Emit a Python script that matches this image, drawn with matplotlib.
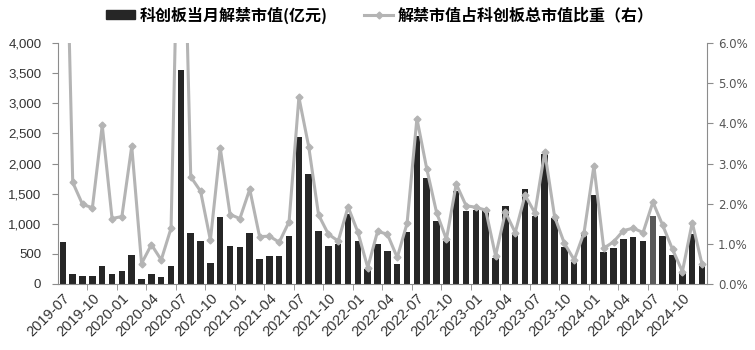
import matplotlib.pyplot as plt
from matplotlib.patches import Patch
from matplotlib.lines import Line2D
from matplotlib.ticker import FuncFormatter, MultipleLocator

plt.rcParams['font.family'] = ['Liberation Sans', 'DejaVu Sans']

# 数据：2019-07 ~ 2024-12 每月
meses = []
for anio in range(2019, 2025):
    for m in range(1, 13):
        if anio == 2019 and m < 7:
            continue
        meses.append(f"{anio}-{m:02d}")

valor_desbloqueo = [
    700, 166, 133, 133, 299, 166, 221, 481, 77, 160, 122, 299,
    3550, 840, 719, 354, 1111, 625, 614, 852, 415, 465, 465, 791,
    2433, 1825, 874, 636, 658, 1161, 708, 243, 658, 542, 337, 868,
    2461, 1753, 1045, 713, 1548, 1206, 1228, 1250, 431, 1300, 824, 1576,
    1134, 2160, 1089, 619, 370, 841, 1471, 531, 603, 752, 774, 708,
    1128, 796, 476, 177, 830, 299,
]

proporcion = [
    12.7, 2.53, 1.98, 1.90, 3.95, 1.63, 1.68, 3.43, 0.51, 0.98, 0.60, 1.39,
    12.6, 2.67, 2.31, 1.09, 3.39, 1.73, 1.63, 2.36, 1.18, 1.19, 1.04, 1.55,
    4.65, 3.42, 1.72, 1.24, 1.07, 1.92, 1.29, 0.41, 1.31, 1.24, 0.66, 1.51,
    4.12, 2.87, 1.78, 1.11, 2.49, 1.95, 1.91, 1.84, 0.70, 1.79, 1.28, 2.21,
    1.77, 3.29, 1.68, 1.01, 0.60, 1.28, 2.94, 0.89, 1.05, 1.33, 1.39, 1.28,
    2.04, 1.46, 0.86, 0.31, 1.53, 0.49,
]

COLOR_BARRA = '#262626'
COLOR_LINEA = '#b4b4b4'
COLOR_EJE = '#8c8c8c'

fig = plt.figure(figsize=(7.55, 3.5), dpi=100)
ax = fig.add_axes([0.0768, 0.1886, 0.8596, 0.6884])

x = list(range(len(meses)))
colores = [COLOR_BARRA] * len(meses)
colores[meses.index('2024-07')] = '#595959'
ax.bar(x, valor_desbloqueo, width=0.66, color=colores, zorder=2)

ax.set_xlim(-0.5, len(meses) - 0.5)
ax.set_ylim(0, 4000)
ax.yaxis.set_major_locator(MultipleLocator(500))
ax.yaxis.set_major_formatter(FuncFormatter(lambda v, p: f"{int(v):,}"))

ax.set_xticks(x[::3])
ax.set_xticklabels(meses[::3], rotation=45, ha='right', rotation_mode='anchor')
ax.set_xticks([i - 0.5 for i in range(3, len(meses), 3)], minor=True)
ax.tick_params(axis='x', which='major', length=0, pad=5, labelsize=10.5, colors='#333333')
ax.tick_params(axis='x', which='minor', length=4, direction='out', color=COLOR_EJE)
ax.tick_params(axis='y', length=4, direction='out', color=COLOR_EJE, labelsize=9.5,
               labelcolor='#333333', pad=8)

for lado in ['top', 'right']:
    ax.spines[lado].set_visible(False)
ax.spines['left'].set_color(COLOR_EJE)
ax.spines['bottom'].set_color(COLOR_EJE)

ax2 = ax.twinx()
ax2.plot(x, proporcion, color=COLOR_LINEA, linewidth=2.2, marker='D', markersize=3.5,
         markerfacecolor=COLOR_LINEA, markeredgecolor=COLOR_LINEA, zorder=3)
ax2.set_ylim(0, 6)
ax2.yaxis.set_major_locator(MultipleLocator(1))
ax2.yaxis.set_major_formatter(FuncFormatter(lambda v, p: f"{v:.1f}%"))
ax2.tick_params(axis='y', length=4, direction='out', color=COLOR_EJE, labelsize=8.5,
                labelcolor='#555555', pad=4)
for lado in ['top', 'left', 'bottom']:
    ax2.spines[lado].set_visible(False)
ax2.spines['right'].set_color(COLOR_EJE)
for t in ax2.get_yticklabels():
    t.set_family(['DejaVu Sans'])

# Leyenda
manejadores = [
    Patch(facecolor=COLOR_BARRA, edgecolor=COLOR_BARRA, label='科创板当月解禁市值(亿元)'),
    Line2D([], [], color=COLOR_LINEA, linewidth=2.2, marker='D', markersize=3.5,
           label='解禁市值占科创板总市值比重（右）'),
]
fig.legend(handles=manejadores, loc='center', bbox_to_anchor=(0.503, 0.957), ncol=2,
           frameon=False, handlelength=1.8, handleheight=0.5, handletextpad=0.3,
           columnspacing=2.3, borderaxespad=0,
           prop={'family': ['Noto Sans CJK SC', 'DejaVu Sans'], 'size': 11.5, 'weight': 'bold'})

fig.savefig('out.png', dpi=100)
